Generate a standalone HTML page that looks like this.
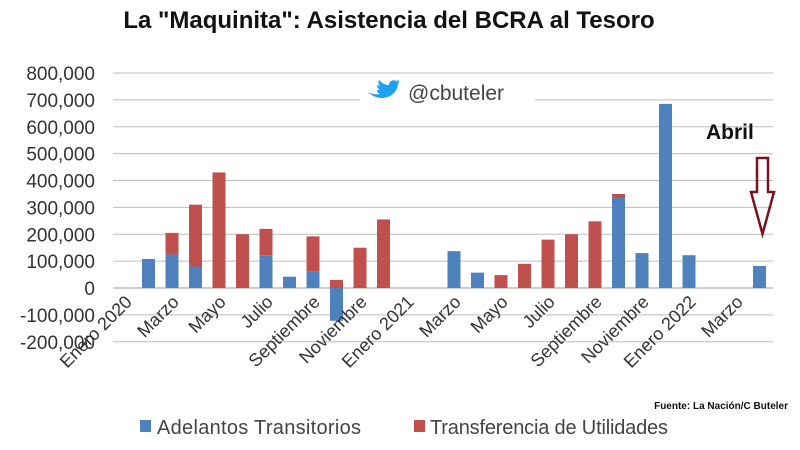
<!DOCTYPE html>
<html><head><meta charset="utf-8"><style>
body{margin:0;background:#fff;width:800px;height:445px;overflow:hidden;font-family:"Liberation Sans",sans-serif}
</style></head><body>
<svg id="chart" width="800" height="445" xmlns="http://www.w3.org/2000/svg">
<text x="389" y="28" text-anchor="middle" font-size="24" font-weight="bold" fill="#111">La "Maquinita": Asistencia del BCRA al Tesoro</text>
<g id="grid"></g><g id="ylabels"></g><g id="bars"></g><g id="xlabels"></g>
<rect x="360" y="80" width="175" height="28" fill="#fff"/>
<path d="M368 92c4 2 8 3 12 2-2-1-3-2-3-4 1 0 2 0 3 0-2-1-3-3-3-5 1 0 2 1 3 1-2-2-2-4-1-6 3 3 6 5 10 5 0-4 4-6 7-4 1 0 2-1 3-1 0 1-1 2-2 2 1 0 2 0 3-1-1 1-1 2-2 2 0 8-7 15-16 15-5 0-10-2-14-6z" fill="#1da1f2"/>
<text x="408" y="100" font-size="21" fill="#444">@cbuteler</text>
<text x="706" y="139" font-size="21" font-weight="bold" fill="#111">Abril</text>
<path d="M757 158h11v34h6l-11.5 42-11.5-42h6z" fill="none" stroke="#7a1020" stroke-width="2.5"/>
<text x="788" y="409" text-anchor="end" font-size="10" font-weight="bold" fill="#111">Fuente: La Nación/C Buteler</text>
<rect x="140" y="420" width="11" height="12" fill="#4f81bd"/>
<text x="157" y="434" font-size="20" fill="#444" textLength="204">Adelantos Transitorios</text>
<rect x="414" y="420" width="11" height="12" fill="#c0504d"/>
<text x="430" y="434" font-size="20" fill="#444" textLength="238">Transferencia de Utilidades</text>
</svg>
<script>
const months=["Ene20","Feb20","Mar20","Abr20","May20","Jun20","Jul20","Ago20","Sep20","Oct20","Nov20","Dic20","Ene21","Feb21","Mar21","Abr21","May21","Jun21","Jul21","Ago21","Sep21","Oct21","Nov21","Dic21","Ene22","Feb22","Mar22","Abr22"];
const adelantos=[0,108000,125000,80000,0,0,122000,42000,62000,-122000,0,0,0,0,137000,57000,0,0,0,0,0,335000,130000,685000,122000,0,0,82000];
const transferencia=[0,0,80000,230000,430000,200000,98000,0,130000,30000,150000,255000,0,0,0,0,48000,90000,180000,200000,248000,15000,0,0,0,0,0,0];
const yTicks=[800000,700000,600000,500000,400000,300000,200000,100000,0,-100000,-200000];
const xTickLabels=["Enero 2020","Marzo","Mayo","Julio","Septiembre","Noviembre","Enero 2021","Marzo","Mayo","Julio","Septiembre","Noviembre","Enero 2022","Marzo"];
const NS="http://www.w3.org/2000/svg";
const y=v=>288-v*(215/800000);
const x=i=>125+i*23.5;
const bw=13;
function mk(t,a,p){const e=document.createElementNS(NS,t);for(const k in a)e.setAttribute(k,a[k]);p.appendChild(e);return e;}
const g=document.getElementById('grid'),yl=document.getElementById('ylabels'),b=document.getElementById('bars'),xl=document.getElementById('xlabels');
yTicks.forEach(v=>{
 const l=mk('line',{x1:113,x2:773,y1:y(v),y2:y(v),stroke:v===0?'#999':'#bdbdbd','stroke-width':1},g);
 
 
 const t=mk('text',{x:95,y:y(v)+7,'text-anchor':'end','font-size':19,fill:'#333'},yl);
 t.textContent=v.toLocaleString('en-US');
 
 
});
months.forEach((m,i)=>{
 const a=adelantos[i],r=transferencia[i];
 if(a!==0){const top=Math.max(a,0),bot=Math.min(a,0);
  const e=mk('rect',{x:x(i)-bw/2,y:y(top),width:bw,height:y(bot)-y(top),fill:'#4f81bd'},b);
  
  }
 if(r!==0){const base=Math.max(a,0);
  const e=mk('rect',{x:x(i)-bw/2,y:y(base+r),width:bw,height:y(base)-y(base+r),fill:'#c0504d'},b);
  
  }
});
xTickLabels.forEach((s,k)=>{
 const cx=x(k*2)+8,cy=303;
 const t=mk('text',{x:cx,y:cy,'text-anchor':'end','font-size':18,fill:'#333',transform:`rotate(-45 ${cx} ${cy})`},xl);
 t.textContent=s;
 
 
});
</script>
</body></html>
